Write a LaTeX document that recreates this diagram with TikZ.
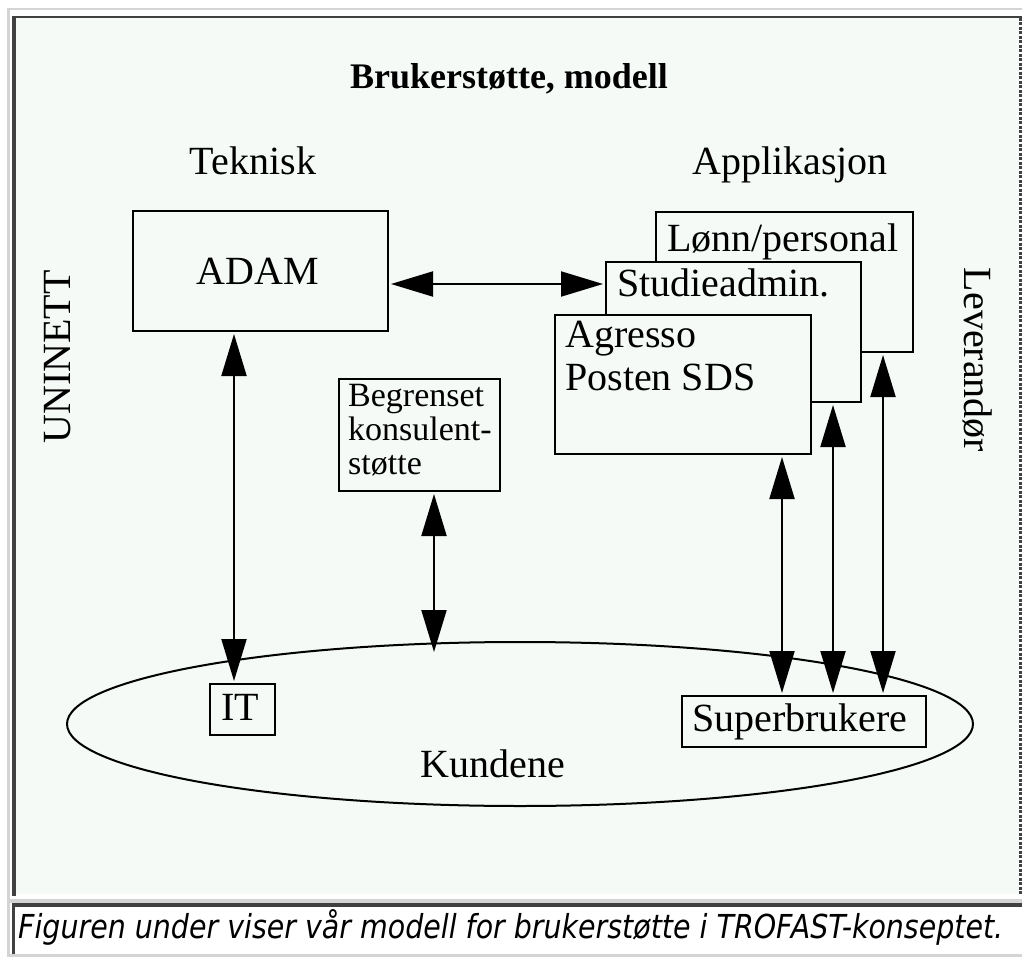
\documentclass[tikz,border=0pt]{standalone}
\usepackage{graphicx}
\usepackage{fontspec}
\setmainfont{Liberation Serif}
\newfontfamily\capfont{DejaVu Sans}
\usetikzlibrary{arrows.meta,shapes.geometric}
\definecolor{bgc}{RGB}{245,250,247}
\definecolor{lgray}{RGB}{212,212,212}
\definecolor{dgray}{RGB}{64,64,64}
\begin{document}
\begin{tikzpicture}[x=1pt,y=-1pt,
  box/.style={draw=black,line width=2pt,fill=bgc,inner sep=0pt,outer sep=3pt,anchor=north west},
  lbl/.style={font=\fontsize{40}{44}\selectfont,inner sep=0pt},
  small/.style={font=\fontsize{34}{34}\selectfont,inner sep=0pt},
  dbl/.style={{Triangle[length=42pt,width=25pt]}-{Triangle[length=42pt,width=25pt]},line width=2pt},
]
\useasboundingbox (0,0) rectangle (1022,957);
% frame
\fill[white] (0,0) rectangle (1022,957);
\fill[lgray] (7,8) rectangle (1022,10.5);
\fill[lgray] (7,8) rectangle (10,957);
\fill[lgray] (7,899) rectangle (1022,903);
\fill[lgray] (7,954) rectangle (1022,957);
\fill[bgc] (16,18) rectangle (1019,894);
\fill[dgray] (12,16) rectangle (1022,18.5);
\fill[dgray] (12,16) rectangle (16,896);
\draw[dgray,line width=2.5pt,dash pattern=on 3pt off 1.5pt] (1020.5,18) -- (1020.5,894);
\fill[dgray] (12,903) rectangle (1022,907);
\fill[dgray] (12,903) rectangle (15,954);

% titles
\node[font=\bfseries\fontsize{36}{40}\selectfont,inner sep=0pt,anchor=base] (title) at (509,89) {Brukerstøtte, modell};
\node[lbl,anchor=base] (tek) at (253,175) {Teknisk};
\node[lbl,anchor=base] (app) at (790,175) {Applikasjon};
\node[lbl,anchor=base,rotate=90] (uni) at (70,357) {UNINETT};
\node[lbl,anchor=base,rotate=-90] (lev) at (964,360) {Leverandør};

% boxes
\node[box,minimum width=255pt,minimum height=120pt] (adam) at (130,208) {};
\node[lbl,anchor=base] (adamt) at (258,285) {ADAM};

\node[box,minimum width=257pt,minimum height=140pt] (lonn) at (653,209) {};
\node[lbl,anchor=base west] (lonnt) at (667,252) {Lønn/personal};
\node[box,minimum width=255pt,minimum height=140pt] (stud) at (603,259) {};
\node[lbl,anchor=base west] (studt) at (617,297) {Studieadmin.};
\node[box,minimum width=256pt,minimum height=139pt] (agr) at (552,312) {};
\node[lbl,anchor=base west,align=left] (agrt) at (565,347) {Agresso};
\node[lbl,anchor=base west] (post) at (565,390) {Posten SDS};

\node[box,minimum width=161pt,minimum height=112pt] (beg) at (336,376) {};
\node[small,anchor=base west] (beg1) at (348,406) {Begrenset};
\node[small,anchor=base west] (beg2) at (348,440) {konsulent-};
\node[small,anchor=base west] (beg3) at (348,474) {støtte};

% customers
\node[draw=black,line width=2pt,ellipse,minimum width=906pt,minimum height=164pt,inner sep=0pt] (kund) at (520,724) {};
\node[lbl,anchor=base] (kundt) at (493,777) {Kundene};
\node[box,minimum width=65pt,minimum height=51pt] (it) at (207,681) {};
\node[lbl,anchor=base] (itt) at (240,720) {IT};
\node[box,minimum width=244pt,minimum height=51pt] (sup) at (679,693) {};
\node[lbl,anchor=base] (supt) at (800,731) {Superbrukere};

% connectors
\coordinate (kt) at (434,652);
\draw[dbl] (adam.east |- 0,284) -- (stud.west |- 0,284);
\draw[dbl] (234,0 |- adam.south) -- (234,0 |- it.north);
\draw[dbl] (434,0 |- beg.south) -- (kt);
\draw[dbl] (782,0 |- agr.south) -- (782,0 |- sup.north);
\draw[dbl] (833,0 |- stud.south) -- (833,0 |- sup.north);
\draw[dbl] (883,0 |- lonn.south) -- (883,0 |- sup.north);

% caption
\node[anchor=base west,inner sep=0pt] (cap) at (18,938) {\resizebox{985pt}{\height}{\capfont\itshape\fontsize{33}{36}\selectfont Figuren under viser vår modell for brukerstøtte i TROFAST-konseptet.}};
\end{tikzpicture}
\end{document}
